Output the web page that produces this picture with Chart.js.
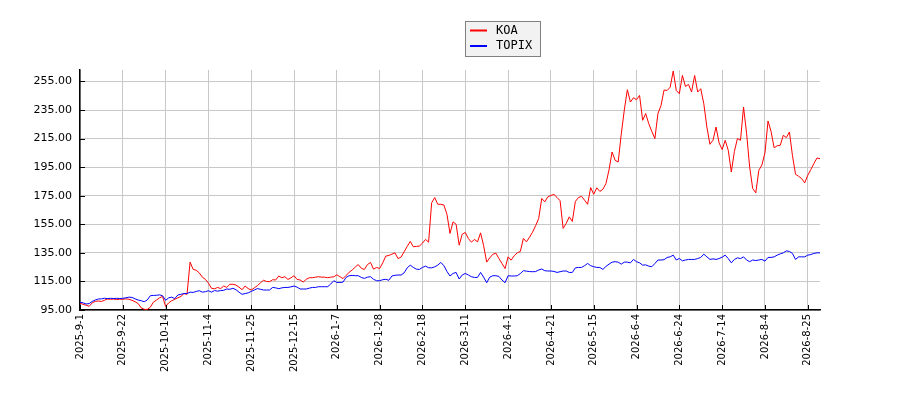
<!DOCTYPE html>
<html>
<head>
<meta charset="utf-8">
<script src="https://cdn.jsdelivr.net/npm/chart.js"></script>
<style>
  html, body { margin: 0; padding: 0; background: #fff; }
</style>
</head>
<body>
<canvas id="chart" width="900" height="400"></canvas>
<script>
// trading calendar (TSE): weekdays minus these closed days
const startDate = '2025-09-01';
const endDate = '2026-08-31';
const closedDays = [
  '2025-09-15', '2025-09-23', '2025-10-13', '2025-11-03', '2025-11-24', '2025-12-31',
  '2026-01-01', '2026-01-02', '2026-01-12', '2026-02-11', '2026-02-23', '2026-03-20',
  '2026-04-29', '2026-05-04', '2026-05-05', '2026-05-06', '2026-07-20', '2026-08-11'
];
const tickEvery = 14;

const yTicks = [95, 115, 135, 155, 175, 195, 215, 235, 255];
const yMin = 95;
const yMax = 263;

const seriesNames = ['KOA', 'TOPIX'];
const seriesColors = ['#ff0000', '#0000ff'];

const koa = [
  99.7, 99.0, 98.3, 97.6, 100.0, 101.0, 101.3, 101.0, 101.8, 102.7, 102.5, 102.7, 102.3, 102.6,
  102.5, 102.8, 102.5, 101.8, 100.8, 99.5, 96.5, 95.5, 95.4, 97.0, 100.5, 102.0, 103.5, 104.5,
  97.5, 100.0, 101.5, 102.5, 103.5, 104.5, 106.5, 106.0, 128.5, 123.5, 122.8, 121.0, 118.0, 116.5,
  113.8, 110.2, 109.8, 110.8, 110.0, 111.8, 110.8, 113.0, 113.0, 112.5, 111.0, 109.2, 111.8, 110.0,
  109.0, 110.5, 112.0, 114.0, 115.8, 115.0, 114.8, 116.2, 116.0, 118.8, 117.6, 118.3, 116.4, 117.5,
  119.0, 116.4, 116.0, 114.6, 116.5, 117.6, 117.6, 118.0, 118.3, 118.0, 118.0, 117.6, 118.0, 118.2,
  119.7, 118.3, 117.0, 119.2, 121.3, 123.0, 125.0, 126.8, 124.2, 123.4, 126.8, 128.3, 123.6, 124.8,
  124.0, 128.0, 132.7, 133.2, 134.1, 135.0, 131.0, 132.0, 135.8, 139.5, 143.0, 139.3, 139.5, 139.8,
  141.8, 144.4, 142.5, 170.0, 173.7, 169.0, 169.0, 168.5, 162.0, 148.6, 156.7, 155.0, 140.4, 148.0,
  149.3, 145.0, 142.5, 144.4, 142.7, 149.0, 140.0, 128.5, 131.5, 134.0, 134.8, 131.0, 127.6, 124.0,
  132.2, 129.9, 133.0, 135.0, 136.0, 145.1, 142.7, 146.0, 149.5, 154.0, 159.0, 173.1, 170.7, 174.2,
  175.2, 175.9, 173.8, 171.5, 152.1, 155.6, 160.2, 157.0, 171.0, 173.7, 174.6, 171.9, 169.0, 180.7,
  176.0, 180.5, 178.0, 179.5, 183.5, 193.0, 205.6, 199.8, 198.6, 218.0, 235.0, 249.2, 240.6, 243.6,
  242.2, 245.2, 227.8, 232.5, 225.4, 220.0, 215.0, 232.5, 238.0, 249.0, 248.7, 251.0, 262.3, 248.7,
  246.4, 259.2, 251.5, 252.9, 247.6, 259.2, 247.6, 249.9, 239.4, 223.1, 211.0, 213.8, 223.1, 212.0,
  207.3, 213.8, 206.8, 191.6, 206.0, 215.0, 213.8, 237.1, 218.5, 195.0, 180.0, 177.0, 192.8, 196.5,
  205.0, 227.3, 220.0, 208.5, 210.0, 210.3, 217.3, 215.7, 219.6, 203.0, 190.0, 188.6, 187.0, 184.0,
  189.3, 193.3, 197.5, 201.4, 200.9
];

const topix = [
  100.4, 100.0, 99.2, 99.5, 101.0, 102.0, 102.7, 102.8, 103.2, 103.0, 103.2, 103.0, 103.2, 103.0,
  103.2, 103.5, 104.0, 103.8, 102.8, 102.0, 101.5, 100.8, 102.0, 105.0, 105.2, 105.3, 105.6, 105.0,
  101.8, 103.5, 104.0, 103.0, 105.5, 106.0, 106.5, 106.5, 107.5, 107.3, 108.0, 108.5, 107.5, 107.8,
  108.5, 107.5, 108.6, 108.2, 108.6, 108.8, 109.7, 109.5, 110.2, 109.2, 107.5, 106.0, 106.5, 107.0,
  108.0, 109.0, 110.0, 109.5, 109.0, 109.0, 109.0, 110.8, 110.5, 109.9, 110.5, 110.8, 110.8, 111.2,
  111.8, 111.0, 109.7, 109.7, 109.7, 110.3, 110.8, 110.8, 111.3, 111.3, 111.3, 111.3, 113.2, 115.5,
  114.3, 114.3, 114.5, 117.8, 119.0, 119.2, 119.0, 119.0, 117.8, 117.1, 118.0, 118.3, 116.5, 115.5,
  115.5, 116.2, 116.5, 115.8, 118.8, 119.3, 119.5, 119.5, 121.0, 124.5, 126.4, 124.8, 123.6, 123.4,
  124.8, 125.7, 124.6, 124.5, 125.2, 126.4, 128.3, 126.0, 122.0, 118.8, 120.6, 121.3, 116.7, 119.5,
  120.6, 119.5, 118.3, 117.8, 117.8, 121.3, 118.0, 114.1, 118.0, 119.0, 119.0, 118.5, 116.0, 114.1,
  119.0, 118.8, 118.8, 119.0, 120.5, 122.5, 122.2, 121.9, 121.8, 121.9, 123.0, 123.7, 122.5, 122.3,
  122.3, 122.0, 121.3, 121.8, 122.3, 122.3, 121.3, 121.3, 124.5, 124.8, 124.8, 126.0, 127.6, 126.0,
  125.3, 124.8, 124.8, 123.4, 125.5, 127.1, 128.5, 128.8, 128.5, 127.1, 128.5, 128.5, 128.0, 130.4,
  128.8, 128.0, 126.4, 126.6, 125.7, 125.3, 127.5, 130.0, 130.0, 130.2, 131.8, 132.2, 133.4, 130.0,
  131.1, 129.4, 130.0, 130.4, 130.4, 130.4, 131.0, 131.8, 134.1, 132.2, 130.4, 130.8, 130.4, 131.0,
  132.0, 133.4, 131.0, 128.0, 130.4, 131.5, 131.0, 132.2, 130.0, 128.8, 130.0, 129.6, 130.0, 130.4,
  129.2, 131.8, 131.8, 132.2, 133.4, 134.3, 135.0, 136.4, 136.0, 134.6, 130.4, 132.2, 132.2, 132.2,
  133.4, 133.8, 134.6, 135.0, 135.0
];

function tradingDays(from, to, closed) {
  const out = [];
  const d = new Date(from + 'T00:00:00Z');
  const end = new Date(to + 'T00:00:00Z');
  while (d <= end) {
    const iso = d.toISOString().slice(0, 10);
    const wd = d.getUTCDay();
    if (wd !== 0 && wd !== 6 && !closed.includes(iso)) {
      out.push(d.getUTCFullYear() + '-' + (d.getUTCMonth() + 1) + '-' + d.getUTCDate());
    }
    d.setUTCDate(d.getUTCDate() + 1);
  }
  return out;
}

const dates = tradingDays(startDate, endDate, closedDays);

// ticks point into the plot, like the original
const innerTicks = {
  id: 'innerTicks',
  afterDraw(chart) {
    const { ctx, chartArea: a, scales: { x, y } } = chart;
    ctx.save();
    ctx.strokeStyle = '#000';
    ctx.lineWidth = 1;
    ctx.beginPath();
    y.ticks.forEach(t => {
      const py = Math.round(y.getPixelForValue(t.value)) + 0.5;
      ctx.moveTo(a.left, py);
      ctx.lineTo(a.left + 5, py);
    });
    x.ticks.forEach(t => {
      const px = Math.round(x.getPixelForValue(t.value)) + 0.5;
      ctx.moveTo(px, a.bottom);
      ctx.lineTo(px, a.bottom - 5);
    });
    ctx.stroke();
    ctx.restore();
  }
};

// boxed legend at the top centre
const legendBox = {
  id: 'legendBox',
  afterDraw(chart) {
    const ctx = chart.ctx;
    const bx = 465, by = 21, bw = 75, bh = 35;
    ctx.save();
    ctx.fillStyle = '#f2f2f2';
    ctx.fillRect(bx, by, bw, bh);
    ctx.strokeStyle = '#808080';
    ctx.lineWidth = 1;
    ctx.strokeRect(bx + 0.5, by + 0.5, bw, bh);
    ctx.font = '12px "DejaVu Sans Mono", monospace';
    ctx.textBaseline = 'middle';
    chart.data.datasets.forEach((ds, i) => {
      const ly = by + 9.5 + i * 15.5;
      ctx.strokeStyle = ds.borderColor;
      ctx.lineWidth = 2;
      ctx.beginPath();
      ctx.moveTo(bx + 5, ly);
      ctx.lineTo(bx + 22, ly);
      ctx.stroke();
      ctx.fillStyle = '#000';
      ctx.fillText(ds.label, bx + 31, ly);
    });
    ctx.restore();
  }
};

new Chart(document.getElementById('chart'), {
  type: 'line',
  data: {
    labels: dates,
    datasets: [
      { label: seriesNames[0], data: koa, borderColor: seriesColors[0], order: 1 },
      { label: seriesNames[1], data: topix, borderColor: seriesColors[1], order: 0 }
    ]
  },
  options: {
    responsive: false,
    animation: false,
    devicePixelRatio: 1,
    layout: { padding: { left: 0, top: 70, right: 80, bottom: 0 } },
    elements: {
      line: { borderWidth: 1, tension: 0, fill: false },
      point: { radius: 0 }
    },
    plugins: {
      legend: { display: false },
      tooltip: { enabled: false }
    },
    scales: {
      x: {
        type: 'category',
        offset: false,
        grid: { color: '#c8c8c8', drawTicks: false },
        border: { color: '#000', width: 1.5 },
        ticks: {
          autoSkip: false,
          maxRotation: 90,
          minRotation: 90,
          padding: 4,
          color: '#000',
          font: { family: 'DejaVu Sans', size: 10 }
        },
        afterBuildTicks: axis => {
          axis.ticks = axis.ticks.filter(t => t.value % tickEvery === 0);
        },
        afterFit: axis => { axis.height = 90; }
      },
      y: {
        min: yMin,
        max: yMax,
        grid: { color: '#c8c8c8', drawTicks: false },
        border: { color: '#000', width: 1.5 },
        ticks: {
          padding: 8,
          color: '#000',
          font: { family: 'DejaVu Sans', size: 11 },
          callback: v => Number(v).toFixed(2)
        },
        afterBuildTicks: axis => {
          axis.ticks = yTicks.map(v => ({ value: v }));
        },
        afterFit: axis => { axis.width = 80; }
      }
    }
  },
  plugins: [innerTicks, legendBox]
});
</script>
</body>
</html>
